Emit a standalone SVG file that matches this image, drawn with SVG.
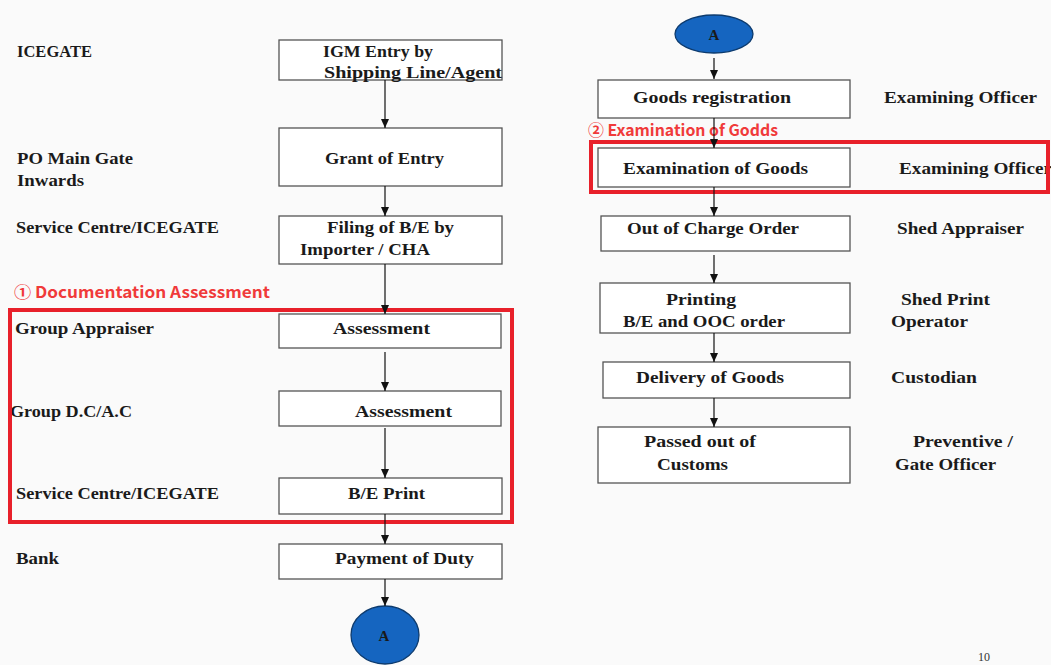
<svg xmlns="http://www.w3.org/2000/svg" width="1051" height="665" viewBox="0 0 1051 665">
<defs>
<style>
.bg{fill:#fafafa}
.box{fill:#ffffff;stroke:#555;stroke-width:1.3}
.t{font-family:"Liberation Serif",serif;font-weight:bold;font-size:16.5px;fill:#1a1a1a}
.red{fill:none;stroke:#e8202a;stroke-width:4}
.rl{font-family:"Noto Sans CJK KR","Noto Sans",sans-serif;font-size:16px;fill:#f03a3a;font-weight:bold}
.cir{fill:#1565c0;stroke:#0d3b6e;stroke-width:1.3}
.con line{stroke:#111;stroke-width:1.2;marker-end:url(#ah)}
</style>
<marker id="ah" markerWidth="9" markerHeight="8" refX="9" refY="4" orient="auto" markerUnits="userSpaceOnUse" viewBox="0 0 9 8">
<path d="M0,0 L9,4 L0,8 Z" fill="#111"/>
</marker>
</defs>
<rect class="bg" x="0" y="0" width="1051" height="665"/>

<g id="lanes">
<text class="t" x="17" y="57" textLength="75" lengthAdjust="spacingAndGlyphs">ICEGATE</text>
<text class="t" x="17" y="164" textLength="116" lengthAdjust="spacingAndGlyphs">PO Main Gate</text>
<text class="t" x="17" y="186" textLength="67" lengthAdjust="spacingAndGlyphs">Inwards</text>
<text class="t" x="16" y="233" textLength="203" lengthAdjust="spacingAndGlyphs">Service Centre/ICEGATE</text>
<text class="t" x="15" y="334" textLength="139" lengthAdjust="spacingAndGlyphs">Group Appraiser</text>
<text class="t" x="10" y="417" textLength="122" lengthAdjust="spacingAndGlyphs">Group D.C/A.C</text>
<text class="t" x="16" y="499" textLength="203" lengthAdjust="spacingAndGlyphs">Service Centre/ICEGATE</text>
<text class="t" x="16" y="564" textLength="43" lengthAdjust="spacingAndGlyphs">Bank</text>
<text class="t" x="884" y="103" textLength="153" lengthAdjust="spacingAndGlyphs">Examining Officer</text>
<text class="t" x="897" y="234" textLength="127" lengthAdjust="spacingAndGlyphs">Shed Appraiser</text>
<text class="t" x="901" y="305" textLength="89" lengthAdjust="spacingAndGlyphs">Shed Print</text>
<text class="t" x="891" y="327" textLength="77" lengthAdjust="spacingAndGlyphs">Operator</text>
<text class="t" x="891" y="383" textLength="86" lengthAdjust="spacingAndGlyphs">Custodian</text>
<text class="t" x="913" y="447" textLength="100" lengthAdjust="spacingAndGlyphs">Preventive /</text>
<text class="t" x="895" y="470" textLength="101" lengthAdjust="spacingAndGlyphs">Gate Officer</text>
</g>

<g id="n1"><rect class="box" x="279" y="40" width="223" height="40"/>
<text class="t" x="323" y="57" textLength="110" lengthAdjust="spacingAndGlyphs">IGM Entry by</text><text class="t" x="324" y="78" textLength="178" lengthAdjust="spacingAndGlyphs">Shipping Line/Agent</text></g>
<g id="n2"><rect class="box" x="279" y="128" width="223" height="58"/>
<text class="t" x="325" y="164" textLength="119" lengthAdjust="spacingAndGlyphs">Grant of Entry</text></g>
<g id="n3"><rect class="box" x="279" y="216" width="223" height="48"/>
<text class="t" x="327" y="233" textLength="127" lengthAdjust="spacingAndGlyphs">Filing of B/E by</text><text class="t" x="300" y="255" textLength="130" lengthAdjust="spacingAndGlyphs">Importer / CHA</text></g>
<g id="n4"><rect class="box" x="279" y="314" width="222" height="34"/>
<text class="t" x="333" y="334" textLength="97" lengthAdjust="spacingAndGlyphs">Assessment</text></g>
<g id="n5"><rect class="box" x="279" y="391" width="222" height="35"/>
<text class="t" x="355" y="417" textLength="97" lengthAdjust="spacingAndGlyphs">Assessment</text></g>
<g id="n6"><rect class="box" x="279" y="478" width="223" height="36"/>
<text class="t" x="348" y="499" textLength="77" lengthAdjust="spacingAndGlyphs">B/E Print</text></g>
<g id="n7"><rect class="box" x="279" y="544" width="223" height="35"/>
<text class="t" x="335" y="564" textLength="139" lengthAdjust="spacingAndGlyphs">Payment of Duty</text></g>
<g id="a1"><ellipse class="cir" cx="385" cy="635" rx="34" ry="29"/>
<text class="t" x="384" y="641" text-anchor="middle" style="font-size:15px">A</text></g>

<g id="a2"><ellipse class="cir" cx="714" cy="34" rx="39" ry="19"/>
<text class="t" x="714" y="40" text-anchor="middle" style="font-size:15px">A</text></g>
<g id="m1"><rect class="box" x="598" y="80" width="252" height="38"/>
<text class="t" x="633" y="103" textLength="158" lengthAdjust="spacingAndGlyphs">Goods registration</text></g>
<g id="m2"><rect class="box" x="598" y="148" width="252" height="39"/>
<text class="t" x="623" y="174" textLength="185" lengthAdjust="spacingAndGlyphs">Examination of Goods</text></g>
<g id="m3"><rect class="box" x="601" y="216" width="249" height="35"/>
<text class="t" x="627" y="234" textLength="172" lengthAdjust="spacingAndGlyphs">Out of Charge Order</text></g>
<g id="m4"><rect class="box" x="600" y="283" width="250" height="50"/>
<text class="t" x="666" y="305" textLength="70" lengthAdjust="spacingAndGlyphs">Printing</text><text class="t" x="623" y="327" textLength="162" lengthAdjust="spacingAndGlyphs">B/E and OOC order</text></g>
<g id="m5"><rect class="box" x="603" y="362" width="247" height="36"/>
<text class="t" x="636" y="383" textLength="148" lengthAdjust="spacingAndGlyphs">Delivery of Goods</text></g>
<g id="m6"><rect class="box" x="598" y="427" width="252" height="56"/>
<text class="t" x="644" y="447" textLength="112" lengthAdjust="spacingAndGlyphs">Passed out of</text><text class="t" x="657" y="470" textLength="71" lengthAdjust="spacingAndGlyphs">Customs</text></g>
<g id="g2">
<text class="t" x="899" y="174" textLength="153" lengthAdjust="spacingAndGlyphs">Examining Officer</text>
<rect class="red" x="591" y="142" width="457" height="50"/>
<text class="rl" x="588" y="136" textLength="190" lengthAdjust="spacingAndGlyphs">② Examination of Godds</text>
</g>

<g id="g1"><rect class="red" x="10" y="310" width="502" height="212"/>
<text class="rl" x="14" y="298" textLength="256" lengthAdjust="spacingAndGlyphs">① Documentation Assessment</text></g>

<g class="con" id="connectors">
<line x1="385" y1="80" x2="385" y2="128"/>
<line x1="385" y1="186" x2="385" y2="216"/>
<line x1="385" y1="264" x2="385" y2="314"/>
<line x1="385" y1="352" x2="385" y2="391"/>
<line x1="385" y1="428" x2="385" y2="478"/>
<line x1="385" y1="514" x2="385" y2="544"/>
<line x1="385" y1="579" x2="385" y2="606"/>
<line x1="714" y1="58" x2="714" y2="79"/>
<line x1="714" y1="118" x2="714" y2="148"/>
<line x1="714" y1="187" x2="714" y2="216"/>
<line x1="714" y1="255" x2="714" y2="283"/>
<line x1="714" y1="333" x2="714" y2="362"/>
<line x1="714" y1="398" x2="714" y2="427"/>
</g>
<text x="978" y="661" style="font-family:'Liberation Serif',serif;font-size:12px;fill:#333">10</text>
</svg>
